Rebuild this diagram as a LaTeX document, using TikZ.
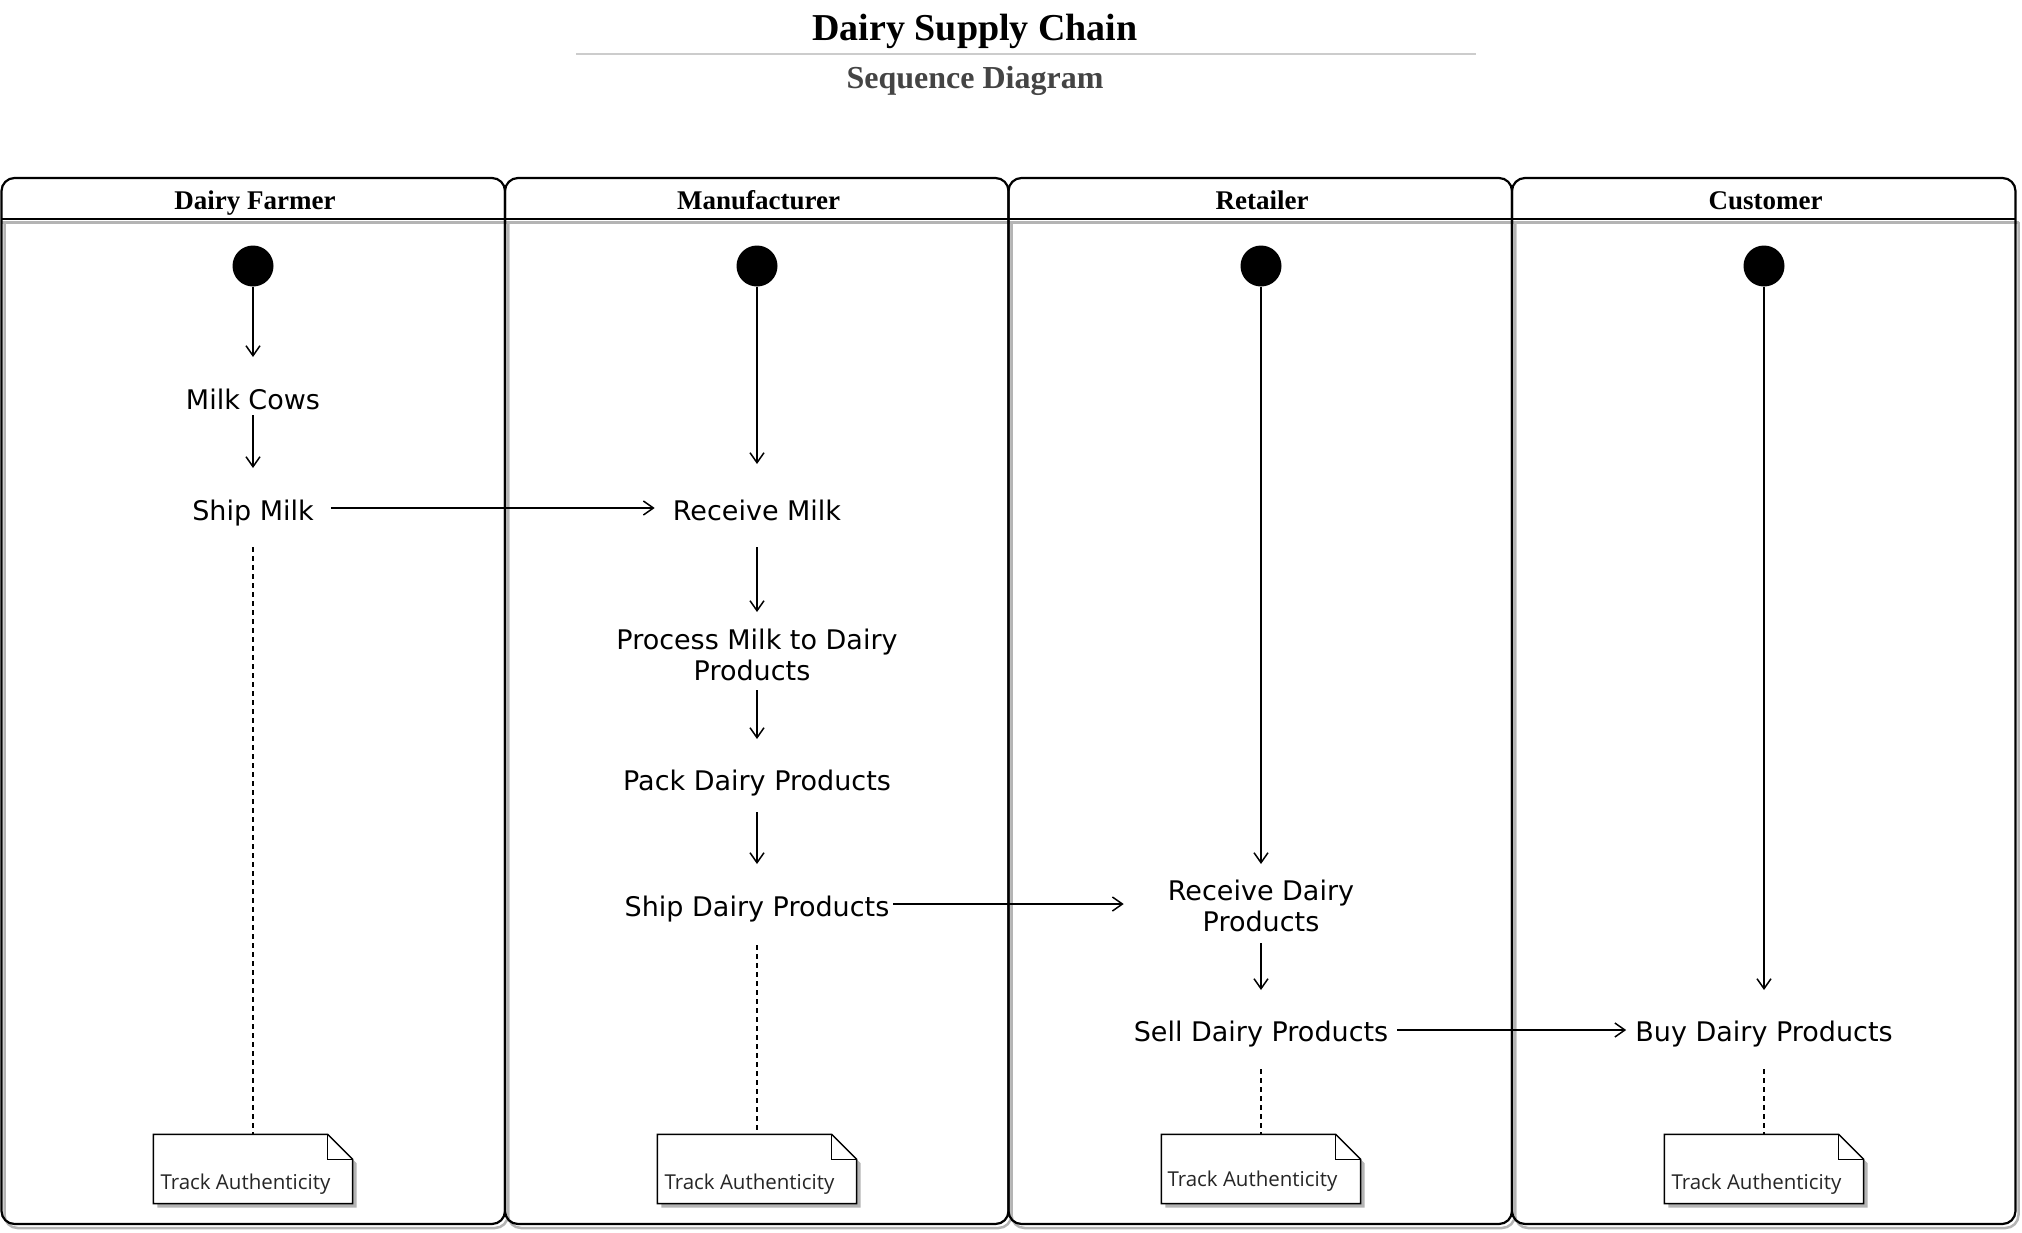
\documentclass[tikz,border=0pt]{standalone}
\usepackage{fontspec}
\setmainfont{Liberation Serif}
\newfontfamily\dejavu{DejaVu Sans}
\newfontfamily\opensans{Open Sans}
\usetikzlibrary{arrows.meta}
\definecolor{shadowgrey}{HTML}{B4B4B4}
\definecolor{subgrey}{HTML}{444444}
\definecolor{rulegrey}{HTML}{CCCCCC}
\begin{document}
\begin{tikzpicture}[x=1pt,y=-1pt,
  act/.style={font=\dejavu\fontsize{27}{31}\selectfont, align=center, inner sep=0pt},
  startdot/.style={circle, fill=black, minimum size=41pt, inner sep=0pt},
  arr/.style={line width=1.5pt, -{Straight Barb[length=10pt,width=14pt]}},
  dash line/.style={line width=1.5pt, dash pattern=on 5pt off 4pt},
  lanehead/.style={font=\bfseries\fontsize{27}{30}\selectfont, anchor=base},
  notebox/.style={minimum width=199pt, minimum height=69pt, inner sep=0pt},
  notetext/.style={font=\opensans\fontsize{20.5}{24}\selectfont, anchor=base west, inner sep=0pt, text=black!85}
]
\useasboundingbox (0,0) rectangle (2022,1232);

% title
\node[font=\bfseries\fontsize{38}{42}\selectfont, anchor=base] (title) at (975,40) {Dairy Supply Chain};
\draw[rulegrey, line width=1.5pt] (576,54) -- (1476,54);
\node[font=\bfseries\fontsize{32}{35}\selectfont, text=subgrey, anchor=base] (subtitle) at (975,88) {Sequence Diagram};

% lanes: shadows
\foreach \i in {0,1,2,3}{
  \pgfmathsetmacro\xa{1.5+503.5*\i}
  \pgfmathsetmacro\xb{\xa+503.5}
  \draw[shadowgrey, line width=2.5pt, rounded corners=13pt]
    (\xa+3,222) -- (\xa+3,1228) -- (\xb+3,1228) -- (\xb+3,222);
  \draw[shadowgrey, line width=3pt] (\xa,222) -- (\xb+3,222);
}
% lanes: outlines
\foreach \i/\nm in {0/Dairy Farmer,1/Manufacturer,2/Retailer,3/Customer}{
  \pgfmathsetmacro\xa{1.5+503.5*\i}
  \pgfmathsetmacro\xb{\xa+503.5}
  \pgfmathsetmacro\xc{\xa+253.5}
  \draw[black, line width=2.2pt, rounded corners=13pt]
    (\xa,1224) -- (\xa,178) -- (\xb,178) -- (\xb,1224) -- cycle;
  \draw[black, line width=2.2pt] (\xa,219) -- (\xb,219);
  \node[lanehead] (lane\i) at (\xc,209) {\nm};
}

% start dots
\node[startdot] (c1) at (253,266) {};
\node[startdot] (c2) at (757,266) {};
\node[startdot] (c3) at (1261,266) {};
\node[startdot] (c4) at (1764,266) {};

% activities
\node[act] (mc) at (253,399.5) {Milk Cows};
\node[act] (sm) at (253,513) {Ship Milk};
\node[act] (rm) at (757,510.5) {Receive Milk};
\node[act] (pm) at (757,655) {Process Milk to Dairy\\Products\hspace*{10pt}};
\node[act] (pk) at (757,783) {Pack Dairy Products};
\node[act] (sd) at (757,909) {Ship Dairy Products};
\node[act] (rd) at (1261,906) {Receive Dairy\\Products};
\node[act] (sl) at (1261,1034) {Sell Dairy Products};
\node[act] (by) at (1764,1034) {Buy Dairy Products};

% notes
\foreach \nn/\cx in {n1/253,n2/757,n3/1261,n4/1764}{
  \node[notebox] (\nn) at (\cx,1169) {};
  \fill[shadowgrey] ([shift={(4pt,-4pt)}]\nn.north west) -- ([shift={(-21pt,-4pt)}]\nn.north east)
     -- ([shift={(4pt,-29pt)}]\nn.north east) -- ([shift={(4pt,-4pt)}]\nn.south east)
     -- ([shift={(4pt,-4pt)}]\nn.south west) -- cycle;
  \filldraw[fill=white, draw=black, line width=1.5pt] (\nn.north west) -- ([xshift=-25pt]\nn.north east)
     -- ([yshift=-25pt]\nn.north east) -- (\nn.south east) -- (\nn.south west) -- cycle;
  \draw[line width=1.5pt] ([xshift=-25pt]\nn.north east) -- ([shift={(-25pt,-25pt)}]\nn.north east)
     -- ([yshift=-25pt]\nn.north east);
}
\node[notetext] (t1) at ([shift={(7pt,14pt)}]n1.south west) {Track Authenticity};
\node[notetext] (t2) at ([shift={(7pt,14pt)}]n2.south west) {Track Authenticity};
\node[notetext] (t3) at ([shift={(6pt,17pt)}]n3.south west) {Track Authenticity};
\node[notetext] (t4) at ([shift={(7pt,14pt)}]n4.south west) {Track Authenticity};

% connectors
\draw[arr] (c1) -- ([yshift=42.5pt]mc.center);
\draw[arr] ([yshift=-15.5pt]mc.center) -- ([yshift=45pt]sm.center);
\draw[arr, shorten <=17pt, shorten >=18pt] ([yshift=5pt]sm.east) -- ([yshift=5pt]sm.east -| rm.west);
\draw[arr] (c2) -- ([yshift=46.5pt]rm.center);
\draw[arr] ([yshift=-36.5pt]rm.center) -- ([yshift=43pt]pm.center);
\draw[arr] ([yshift=-35pt]pm.center) -- ([yshift=44pt]pk.center);
\draw[arr] ([yshift=-29pt]pk.center) -- ([yshift=45pt]sd.center);
\draw[arr, shorten <=4pt, shorten >=44pt] ([yshift=5pt]sd.east) -- ([yshift=5pt]sd.east -| rd.west);
\draw[arr] (c3) -- ([yshift=42pt]rd.center);
\draw[arr] ([yshift=-37pt]rd.center) -- ([yshift=44pt]sl.center);
\draw[arr, shorten <=9pt, shorten >=9pt] ([yshift=4pt]sl.east) -- ([yshift=4pt]sl.east -| by.west);
\draw[arr] (c4) -- ([yshift=44pt]by.center);

\draw[dash line] ([yshift=-34pt]sm.center) -- (n1.north);
\draw[dash line] ([yshift=-36pt]sd.center) -- (n2.north);
\draw[dash line] ([yshift=-35pt]sl.center) -- (n3.north);
\draw[dash line] ([yshift=-35pt]by.center) -- (n4.north);
\end{tikzpicture}
\end{document}
